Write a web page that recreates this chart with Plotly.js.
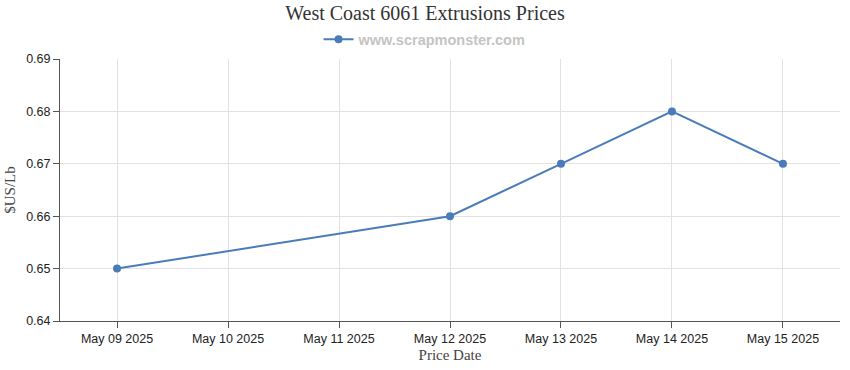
<!DOCTYPE html>
<html>
<head>
<meta charset="utf-8">
<script src="https://cdn.plot.ly/plotly-3.0.1.min.js"></script>
<style>html,body{margin:0;padding:0;background:#fff;}#chart{width:850px;height:370px;}</style>
</head>
<body>
<div id="chart"></div>
<script>
var dates = ["2025-05-09", "2025-05-12", "2025-05-13", "2025-05-14", "2025-05-15"];
var prices = [0.65, 0.66, 0.67, 0.68, 0.67];
var seriesName = "www.scrapmonster.com";
var chartTitle = "West Coast 6061 Extrusions Prices";
var xTitle = "Price Date";
var yTitle = "$US/Lb";

var trace = {
  x: dates, y: prices, name: seriesName, type: "scatter", mode: "lines+markers",
  line: {color: "#4a7cb9", width: 2},
  marker: {color: "#4a7cb9", size: 8},
  showlegend: true
};

var layout = {
  width: 850, height: 370,
  margin: {l: 60, r: 10, t: 59, b: 49},
  paper_bgcolor: "#fff", plot_bgcolor: "#fff",
  font: {family: "Liberation Sans, Arial, sans-serif", size: 12, color: "#222"},
  title: {text: chartTitle, x: 0.5, xref: "container", y: 0.985, yanchor: "top",
          font: {family: "Liberation Serif, Times New Roman, serif", size: 20, color: "#333"}},
  showlegend: true,
  legend: {orientation: "h", x: 0.468, xanchor: "center", y: 1.075, yanchor: "middle",
           font: {family: "Liberation Sans, Arial, sans-serif", size: 14.5, color: "#c4c4c4", weight: "bold"},
           itemwidth: 30},
  xaxis: {
    type: "date",
    range: ["2025-05-08 11:40", "2025-05-15 12:20"],
    dtick: 86400000, tick0: "2025-05-09",
    tickformat: "%b %d %Y",
    tickangle: 0,
    automargin: false,
    showgrid: true, gridcolor: "#e2e2e2",
    showline: true, linecolor: "#555", linewidth: 1,
    ticks: "outside", ticklen: 6, tickcolor: "#555",
    tickfont: {size: 12.5, color: "#222"},
    zeroline: false,
    title: {text: xTitle, standoff: 4, font: {family: "Liberation Serif, Times New Roman, serif", size: 15, color: "#444"}}
  },
  yaxis: {
    range: [0.64, 0.69], dtick: 0.01, tickformat: ".2f",
    automargin: false,
    showgrid: true, gridcolor: "#e2e2e2",
    showline: true, linecolor: "#555", linewidth: 1,
    ticks: "outside", ticklen: 6, tickcolor: "#555",
    tickfont: {size: 12.5, color: "#222"},
    zeroline: false,
    title: {text: yTitle, standoff: 6, font: {family: "Liberation Serif, Times New Roman, serif", size: 15, color: "#444"}}
  }
};

Plotly.newPlot("chart", [trace], layout, {displayModeBar: false, responsive: false});
</script>
</body>
</html>
